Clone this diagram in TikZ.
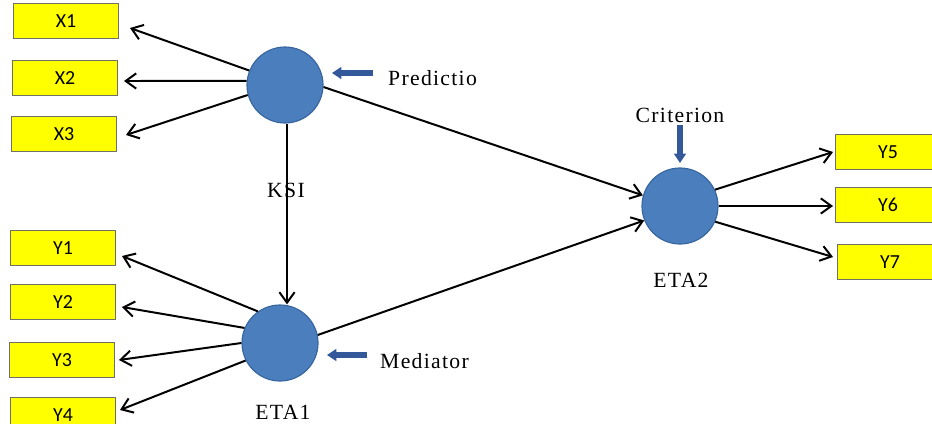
\documentclass[tikz,border=0pt]{standalone}
\usepackage{fontspec}
\setmainfont{Liberation Serif}
\newfontfamily\boxfont{Carlito}
\newfontfamily\rolefont[LetterSpace=6]{Liberation Serif}
\usetikzlibrary{arrows.meta}
\definecolor{latentfill}{HTML}{4A7EBD}
\definecolor{latentedge}{HTML}{3A66A0}
\definecolor{itemfill}{HTML}{FFFF00}
\definecolor{itemedge}{HTML}{707060}
\definecolor{markblue}{HTML}{34599A}
\tikzset{
  latent/.style={circle, fill=latentfill, draw=latentedge, line width=1pt,
    minimum size=76*0.03cm, inner sep=0pt},
  item/.style={rectangle, fill=itemfill, draw=itemedge, line width=0.8pt,
    minimum width=105*0.03cm, minimum height=35*0.03cm, inner sep=0pt,
    font=\boxfont\fontsize{17}{17}\selectfont},
  role/.style={font=\rolefont\fontsize{18.5}{18.5}\selectfont, inner sep=0pt},
  path/.style={line width=1.7pt, -{Straight Barb[length=9pt,width=13pt,line width=1.7pt]}},
  marker/.style={line width=4.5pt, color=markblue,
    -{Triangle[length=8pt,width=10pt]}},
}
\begin{document}
\begin{tikzpicture}[x=0.03cm, y=-0.03cm]
  \useasboundingbox (0,0) rectangle (932,423);
  \fill[white] (0,0) rectangle (932,423);

  % measured indicators
  \node[item] (x1) at (66,21) {X1};
  \node[item] (x2) at (65,78) {X2};
  \node[item] (x3) at (64,134) {X3};
  \node[item] (y1) at (63,248) {Y1};
  \node[item] (y2) at (63,302) {Y2};
  \node[item] (y3) at (62,360) {Y3};
  \node[item] (y4) at (63,415) {Y4};
  \node[item] (y5) at (888,152) {Y5};
  \node[item] (y6) at (888,205) {Y6};
  \node[item] (y7) at (890,262) {Y7};

  % role labels
  \node[role] (ksilab) at (286,190) {KSI};
  \node[role] (eta1lab) at (283,412) {ETA1};
  \node[role] (eta2lab) at (681,280) {ETA2};
  \node[role, anchor=west] (predlab) at (388,78) {Predictio};
  \node[role, anchor=west] (medlab) at (380,361) {Mediator};
  \node[role] (critlab) at (680,115) {Criterion};

  % latent variables
  \node[latent] (ksi) at (285,85) {};
  \node[latent] (eta1) at (280,343) {};
  \node[latent] (eta2) at (680,206) {};

  % loadings of KSI
  \draw[path] (ksi.158) -- ([xshift=11*0.03cm, yshift=-7*0.03cm]x1.east);
  \draw[path] (ksi.174) -- ([xshift=6*0.03cm, yshift=-3*0.03cm]x2.east);
  \draw[path] (ksi.195) -- ([xshift=9*0.03cm, yshift=-1*0.03cm]x3.east);

  % loadings of ETA1
  \draw[path] (eta1.125) -- ([xshift=6*0.03cm, yshift=-8*0.03cm]y1.east);
  \draw[path] (eta1.157) -- ([xshift=6*0.03cm, yshift=-5*0.03cm]y2.east);
  \draw[path] (eta1.180) -- ([xshift=4*0.03cm]y3.east);
  \draw[path] (eta1.207) -- ([xshift=4*0.03cm, yshift=5*0.03cm]y4.east);

  % loadings of ETA2
  \draw[path] (eta2.25) -- ([xshift=-2*0.03cm]y5.west);
  \draw[path] (eta2.0) -- ([xshift=-2*0.03cm, yshift=-1*0.03cm]y6.west);
  \draw[path] (eta2.-24) -- ([xshift=-4*0.03cm, yshift=5*0.03cm]y7.west);

  % structural paths
  \draw[path] (ksi.south) ++(2,0) coordinate (ksidown)
    (ksidown) -- (ksidown |- eta1.north);
  \draw[path] (ksi.-3) -- (eta2.164);
  \draw[path] (eta1.12) -- (eta2.202);

  % role markers
  \coordinate (predtail) at (373,73);
  \coordinate (predhead) at (332,73);
  \coordinate (medtail) at (367,355);
  \coordinate (medhead) at (327,355);
  \coordinate (crittail) at (680,125);
  \coordinate (crithead) at (680,163);
  \draw[marker] (predtail) -- (predhead);
  \draw[marker] (medtail) -- (medhead);
  \draw[marker] (crittail) -- (crithead);
\end{tikzpicture}
\end{document}
